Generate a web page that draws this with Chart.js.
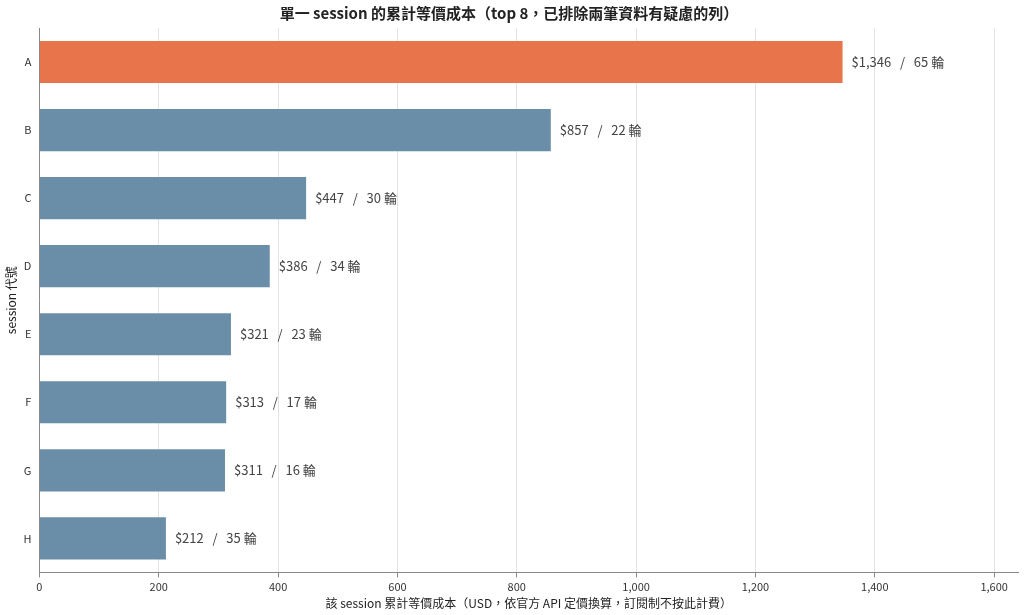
<!DOCTYPE html>
<html><head><meta charset="utf-8">
<script src="https://cdn.jsdelivr.net/npm/chart.js@4"></script>
<style>html,body{margin:0;background:#fff}#w{width:1024px;height:615px}</style>
</head><body><div id="w"><canvas id="c"></canvas></div>
<script>
const categories=["A","B","C","D","E","F","G","H"];
const costs=[1346,857,447,386,321,313,311,212];
const rounds=[65,22,30,34,23,17,16,35];
const xTicks=[0,200,400,600,800,1000,1200,1400,1600];
const F='"Noto Sans CJK TC","Noto Sans",sans-serif';
const labelPlugin={id:'lbl',afterDatasetsDraw(ch){
  const ctx=ch.ctx,x=ch.scales.x,y=ch.scales.y;
  ctx.save();ctx.font='13px '+F;ctx.fillStyle='#444';ctx.textBaseline='middle';
  costs.forEach((v,i)=>{ctx.fillText('$'+v.toLocaleString('en-US')+'   /   '+rounds[i]+' 輪',x.getPixelForValue(v)+9,y.getPixelForValue(i));});
  ctx.restore();}};
new Chart(document.getElementById('c'),{type:'bar',
 data:{labels:categories,datasets:[{data:costs,backgroundColor:costs.map((v,i)=>i===0?'#E8744B':'#6B8EA8'),barPercentage:0.62,categoryPercentage:1}]},
 options:{indexAxis:'y',responsive:true,maintainAspectRatio:false,animation:false,
  layout:{padding:{top:0,right:6,left:0,bottom:0}},
  plugins:{legend:{display:false},tooltip:{enabled:false},
   title:{display:true,text:'單一 session 的累計等價成本（top 8，已排除兩筆資料有疑慮的列）',font:{family:F,size:15,weight:'bold'},color:'#222',padding:{top:4,bottom:6}}},
  scales:{
   x:{min:0,max:1640,afterBuildTicks(s){s.ticks=xTicks.map(v=>({value:v}));},
    z:1,grid:{color:'rgba(215,215,215,0.7)',drawTicks:true,tickColor:'#888',tickLength:5},border:{color:'#888'},
    ticks:{font:{family:F,size:11},color:'#333'},
    title:{display:true,text:'該 session 累計等價成本（USD，依官方 API 定價換算，訂閱制不按此計費）',font:{family:F,size:12},color:'#222',padding:{top:0}}},
   y:{grid:{display:false,drawTicks:true,tickLength:5},border:{color:'#888'},
    ticks:{font:{family:F,size:11},color:'#333'},
    title:{display:true,text:'session 代號',font:{family:F,size:12},color:'#222',padding:{bottom:2}}}
  }},plugins:[labelPlugin]});
</script></body></html>
